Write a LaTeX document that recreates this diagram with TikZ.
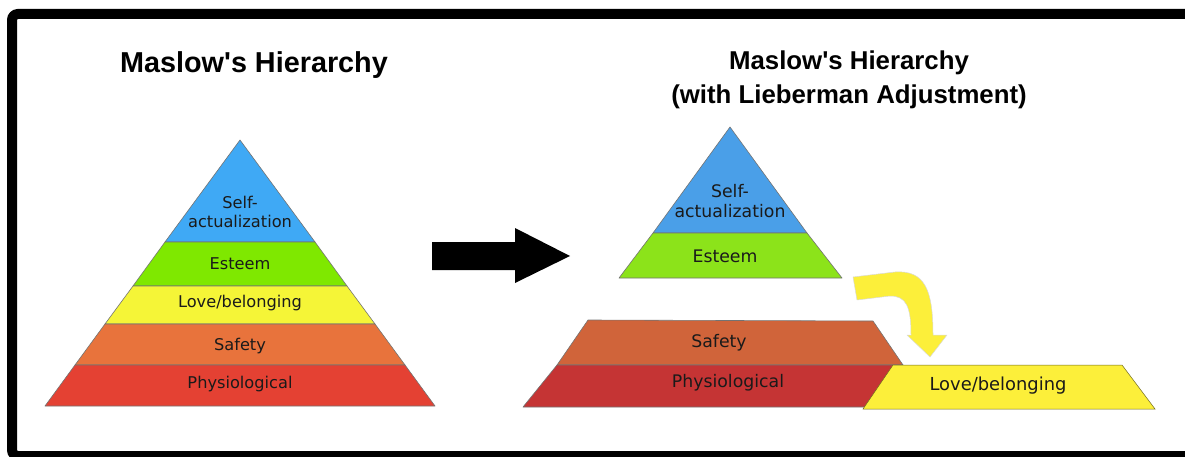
\documentclass[tikz,border=0pt]{standalone}
\usepackage{fontspec}
\setmainfont{Liberation Sans}
\newfontfamily\lblfont{DejaVu Sans}
\definecolor{selfL}{HTML}{3FA9F5}
\definecolor{estL}{HTML}{7FE800}
\definecolor{loveL}{HTML}{F5F537}
\definecolor{safeL}{HTML}{E8733C}
\definecolor{physL}{HTML}{E44133}
\definecolor{selfR}{HTML}{4A9FE8}
\definecolor{estR}{HTML}{8CE31A}
\definecolor{loveR}{HTML}{FCEF3A}
\definecolor{safeR}{HTML}{D0643A}
\definecolor{physR}{HTML}{C53434}
\definecolor{txt}{HTML}{1A1A1A}
\tikzset{
  tier/.style={draw=black!55, line width=0.6pt, line join=round},
  lbl/.style={font=\lblfont\fontsize{16.2}{19}\selectfont, text=txt, align=center, inner sep=0pt},
  lblR/.style={font=\lblfont\fontsize{17.3}{20}\selectfont, text=txt, align=center, inner sep=0pt},
  ttl/.style={font=\bfseries\fontsize{28.8}{33}\selectfont, align=center, inner sep=0pt},
  ttlR/.style={font=\bfseries\fontsize{25.8}{34}\selectfont, align=center, inner sep=0pt},
}
\begin{document}
\begin{tikzpicture}[x=1pt,y=-1pt]
\useasboundingbox (0,0) rectangle (1185,457);
\clip (0,0) rectangle (1185,457);
% frame
\draw[line width=10pt, rounded corners=6pt] (12,14) rectangle (1210,456);

% titles
\node[ttl] (t1) at (254,65) {Maslow\textquotesingle s Hierarchy};
\node[ttlR] (t2) at (849,80) {Maslow\textquotesingle s Hierarchy\\(with Lieberman Adjustment)};

% left pyramid: apex (240,140), base 45..435 at 406
\fill[selfL, tier] (240,140) -- (315,242) -- (165,242) -- cycle;
\fill[estL, tier] (165,242) -- (315,242) -- (347,286) -- (133,286) -- cycle;
\fill[loveL, tier] (133,286) -- (347,286) -- (375,324) -- (105,324) -- cycle;
\fill[safeL, tier] (105,324) -- (375,324) -- (405,365) -- (75,365) -- cycle;
\fill[physL, tier] (75,365) -- (405,365) -- (435,406) -- (45,406) -- cycle;
\node[lbl] (l1) at (240,212) {Self-\\actualization};
\node[lbl] (l2) at (240,264) {Esteem};
\node[lbl] (l3) at (240,303) {Love/belonging};
\node[lbl] (l4) at (240,346) {Safety};
\node[lbl] (l5) at (240,384) {Physiological};

% big black arrow
\fill[black] (432,242) -- (515,242) -- (515,228) -- (570,256) -- (515,283) -- (515,270) -- (432,270) -- cycle;

% right pyramid
\fill[selfR, tier] (730,127) -- (807,233) -- (653,233) -- cycle;
\fill[estR, tier] (653,233) -- (807,233) -- (842,278) -- (619,278) -- cycle;
\fill[safeR, tier] (588,320) -- (873,321) -- (903,365) -- (557,365) -- cycle;
\fill[physR, tier] (557,365) -- (903,365) -- (873,407) -- (523,407) -- cycle;
\fill[loveR, draw=olive!70!black, line width=0.5pt] (893,365) -- (1122,365) -- (1155,409) -- (863,409) -- cycle;
\node[lblR] (r1) at (730,201) {Self-\\actualization};
\node[lblR] (r2) at (725,256) {Esteem};
\node[lblR] (r4) at (719,343) {Safety};
\node[lblR] (r5) at (728,383) {Physiological};
\node[font=\lblfont\fontsize{17.9}{20}\selectfont, text=txt, inner sep=0pt] (r3) at (998,386) {Love/belonging};

% yellow curved arrow
\fill[loveR, draw=black!15, line width=0.5pt, line join=round]
  (853,277) -- (895,272) .. controls (925,270) and (933,290) .. (933,335)
  -- (947,335) -- (930,357) -- (907,335) -- (911,335)
  .. controls (911,306) and (906,296) .. (890,296) -- (857,300) -- cycle;
\end{tikzpicture}
\end{document}
